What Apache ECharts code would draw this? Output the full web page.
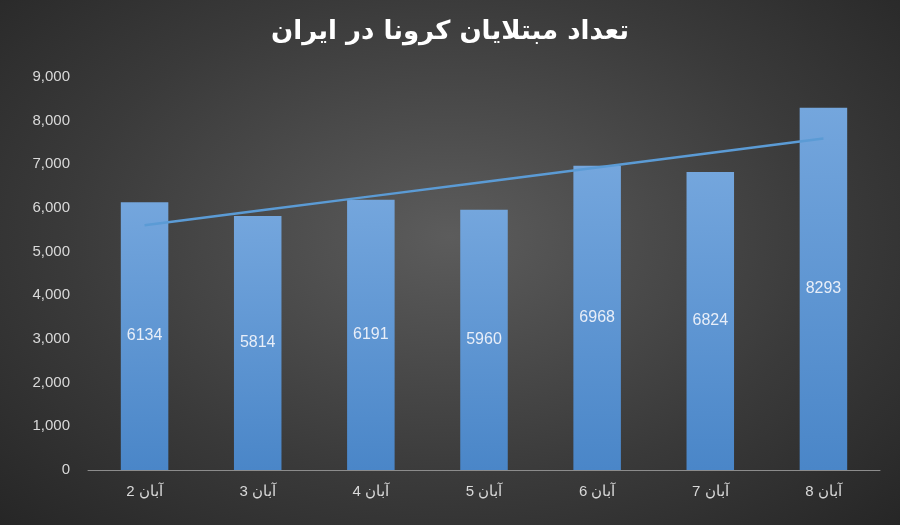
<!DOCTYPE html>
<html><head><meta charset="utf-8">
<script src="https://cdn.jsdelivr.net/npm/echarts@6/dist/echarts.min.js"></script>
<style>html,body{margin:0;padding:0;}#c{width:900px;height:525px;background:radial-gradient(ellipse at 50% 45%,#5c5c5c 0%,#3a3a3a 60%,#262626 100%);}</style>
</head><body><div id="c"></div>
<script>
const categories = ['2 آبان','3 آبان','4 آبان','5 آبان','6 آبان','7 آبان','8 آبان'];
const values = [6134,5814,6191,5960,6968,6824,8293];
const trend = [5604,5935,6266,6598,6929,7260,7591];
const yTicks = [0,1000,2000,3000,4000,5000,6000,7000,8000,9000];
const chart = echarts.init(document.getElementById('c'));
chart.setOption({
  backgroundColor:'transparent',
  title:{text:'تعداد مبتلایان کرونا در ایران',left:'center',top:14,textStyle:{color:'#ffffff',fontSize:26,fontWeight:'bold',fontFamily:'DejaVu Sans'}},
  grid:{left:88,right:20,top:77,bottom:55},
  xAxis:{type:'category',data:categories,axisTick:{show:false},axisLine:{lineStyle:{color:'#8c8c8c'}},
    axisLabel:{color:'#d9d9d9',fontSize:15,margin:14,fontFamily:'Liberation Sans'}},
  yAxis:{type:'value',min:yTicks[0],max:yTicks[yTicks.length-1],interval:1000,splitLine:{show:false},
    axisLabel:{color:'#d9d9d9',fontSize:15,margin:18,fontFamily:'Liberation Sans'}},
  series:[
    {type:'bar',data:values,barWidth:'42%',
     itemStyle:{color:new echarts.graphic.LinearGradient(0,0,0,1,[{offset:0,color:'#74a6dd'},{offset:1,color:'#4a86c8'}])},
     label:{show:true,position:'inside',color:'#e8eef8',fontSize:16,fontFamily:'Liberation Sans'}},
    {type:'line',data:trend,symbol:'none',lineStyle:{color:'#5b9bd5',width:2.5},z:5}
  ]
});
</script></body></html>
